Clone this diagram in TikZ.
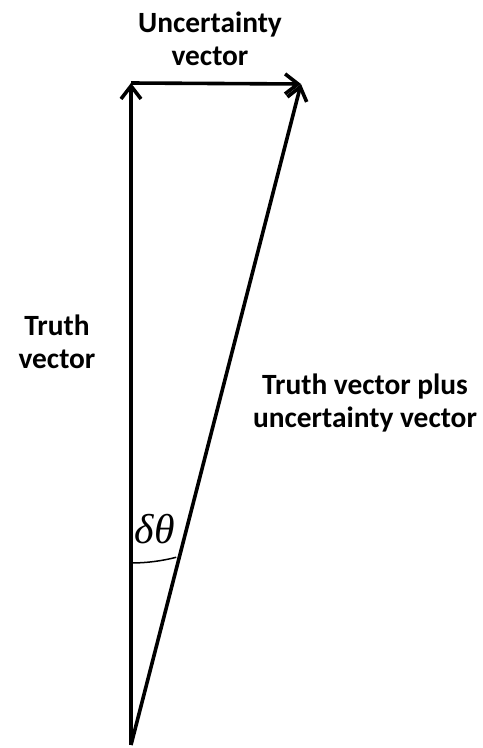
\documentclass[tikz,border=0pt]{standalone}
\usepackage{fontspec}
\setmainfont{Carlito}
\newfontfamily\symfont{Liberation Serif}
\usetikzlibrary{arrows.meta,calc}
\begin{document}
\begin{tikzpicture}[x=1bp,y=-1bp,
  vec/.style={line width=3.6bp,-{Straight Barb[length=13bp,width=20bp,line width=3.6bp]}},
  lbl/.style={font=\fontsize{29.5}{33}\selectfont\bfseries,align=center,inner sep=0pt}]
\useasboundingbox (0,0) rectangle (483,748);
\coordinate (O) at (131,745);
\coordinate (T) at (131,83);
\coordinate (S) at (301,84);
\draw[vec] (O) -- (T);
\draw[vec] (T) -- (S);
\draw[vec] (O) -- (S);
\draw[line width=1.5bp] ($(O)!182bp!(T)$) coordinate (a1) arc[start angle=-90,end angle=-75.6,radius=182bp];
\node[lbl] (u) at (210,39) {Uncertainty\\vector};
\node[lbl] (t) at (57,342) {Truth\\vector};
\node[lbl] (p) at (365,403) {Truth vector plus\\uncertainty vector};
\node[inner sep=0pt] (d) at (155,529) {\symfont\itshape\fontsize{42}{46}\selectfont δθ};
\end{tikzpicture}
\end{document}
